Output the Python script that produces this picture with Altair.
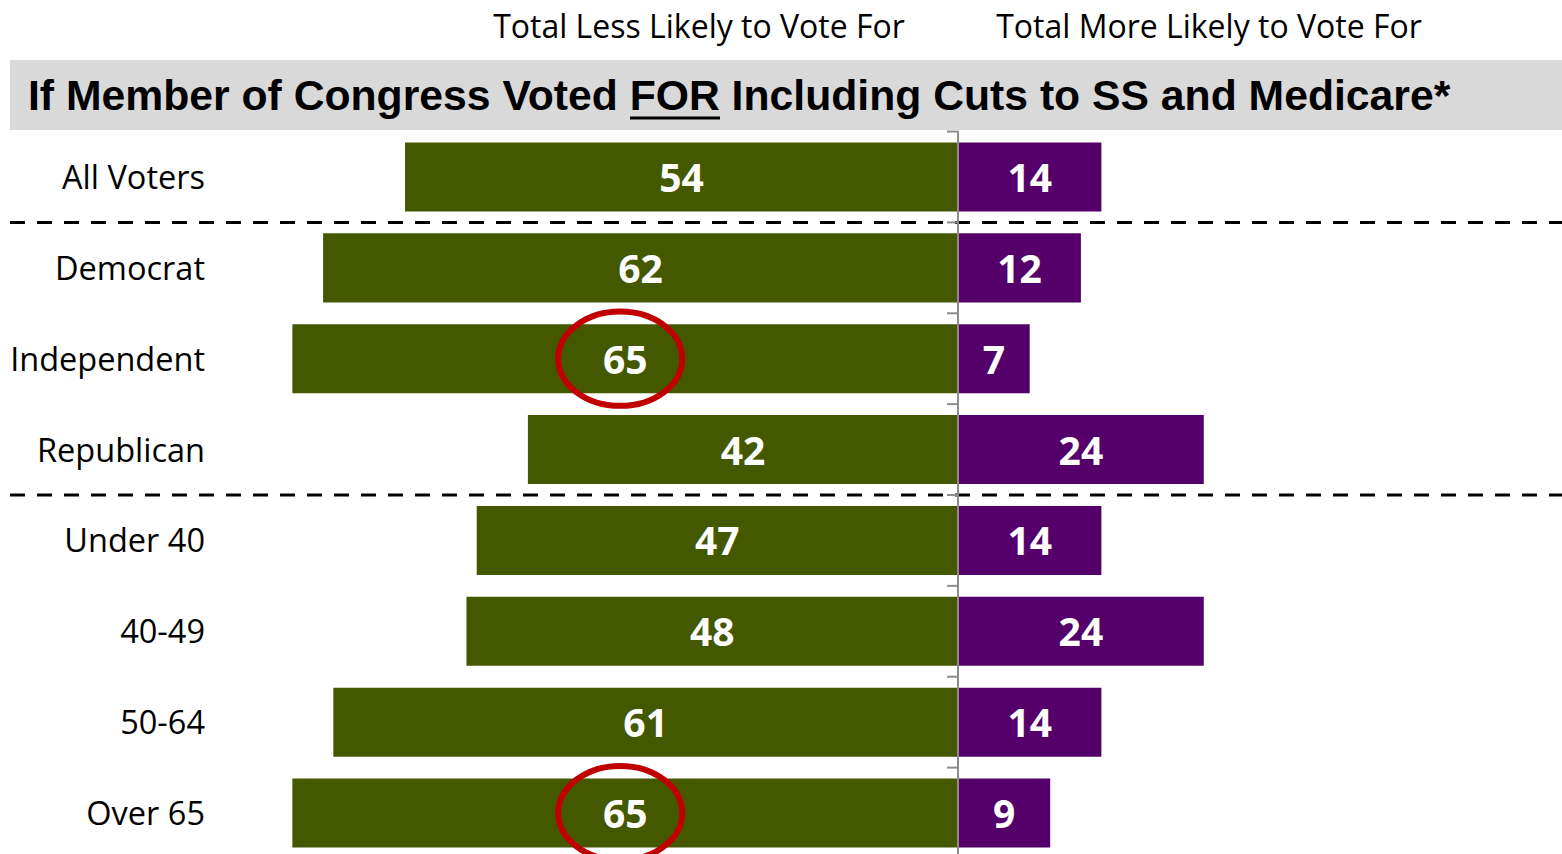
import altair as alt
import pandas as pd

categories = ["All Voters", "Democrat", "Independent", "Republican",
              "Under 40", "40-49", "50-64", "Over 65"]
less_likely = [54, 62, 65, 42, 47, 48, 61, 65]
more_likely = [14, 12, 7, 24, 14, 24, 14, 9]
highlight = ["Independent", "Over 65"]
separators_after = ["All Voters", "Republican"]

title_text = "If Member of Congress Voted FOR Including Cuts to SS and Medicare*"
header_left = "Total Less Likely to Vote For"
header_right = "Total More Likely to Vote For"

GREEN = "#445800"
PURPLE = "#55006A"

rows = []
for i, (c, l, m) in enumerate(zip(categories, less_likely, more_likely)):
    rows.append({"cat": c, "i": i, "side": "less", "x0": 0, "x1": -l,
                 "mid": -l / 2, "label": str(l), "top": i - 0.38, "bot": i + 0.38})
    rows.append({"cat": c, "i": i, "side": "more", "x0": 0, "x1": m,
                 "mid": m / 2, "label": str(m), "top": i - 0.38, "bot": i + 0.38})
bars = pd.DataFrame(rows)
cats = pd.DataFrame({"cat": categories, "i": list(range(len(categories)))})
seps = pd.DataFrame({"y": [categories.index(c) + 0.5 for c in separators_after]})
bounds = pd.DataFrame({"y": [i - 0.5 for i in range(len(categories))]})
hl = bars[(bars["side"] == "less") & (bars["cat"].isin(highlight))]

xscale = alt.Scale(domain=[-93.55, 58.98], nice=False, zero=False)
yscale = alt.Scale(domain=[7.451, -1.948], nice=False, zero=False)

W, H = 1562, 854

title_bar = alt.Chart(pd.DataFrame({"a": [0]})).mark_rect(color="#D9D9D9").encode(
    x=alt.value(10), x2=alt.value(1562), y=alt.value(60), y2=alt.value(130))

title = alt.Chart(pd.DataFrame({"t": [title_text]})).mark_text(
    font="Liberation Sans", fontWeight="bold", fontSize=42.7, align="left",
    baseline="middle", color="black").encode(
    x=alt.value(28), y=alt.value(97), text="t:N")

underline = alt.Chart(pd.DataFrame({"a": [0]})).mark_rule(
    color="black", strokeWidth=3).encode(
    x=alt.value(630), x2=alt.value(720), y=alt.value(118))

headers = alt.Chart(pd.DataFrame({"t": [header_left, header_right], "px": [699, 1209]})).mark_text(
    font="Open Sans", fontSize=32, align="center", baseline="middle", color="black").encode(
    x=alt.X("px:Q", scale=None), y=alt.value(28), text="t:N")

bar_layer = alt.Chart(bars).mark_rect().encode(
    x=alt.X("x0:Q", scale=xscale, axis=None),
    x2="x1:Q",
    y=alt.Y("top:Q", scale=yscale, axis=None),
    y2="bot:Q",
    color=alt.Color("side:N", scale=alt.Scale(domain=["less", "more"], range=[GREEN, PURPLE]),
                    legend=None))

sep_layer = alt.Chart(seps).mark_rule(color="black", strokeWidth=3, strokeDash=[15, 12]).encode(
    x=alt.value(10), x2=alt.value(1562), y=alt.Y("y:Q", scale=yscale, axis=None))

axis_line = alt.Chart(pd.DataFrame({"a": [0]})).mark_rule(color="#8C8C8C", strokeWidth=2).encode(
    x=alt.X("a:Q", scale=xscale, axis=None), y=alt.value(131), y2=alt.value(854))

ticks = alt.Chart(bounds).mark_rule(color="#8C8C8C", strokeWidth=2).encode(
    x=alt.value(947), x2=alt.value(958), y=alt.Y("y:Q", scale=yscale, axis=None))

value_labels = alt.Chart(bars).mark_text(
    font="Open Sans", fontWeight="bold", fontSize=39, color="white",
    align="center", baseline="middle", dy=3).encode(
    x=alt.X("mid:Q", scale=xscale, axis=None),
    y=alt.Y("i:Q", scale=yscale, axis=None),
    text="label:N")

cat_labels = alt.Chart(cats).mark_text(
    font="Open Sans", fontSize=32.5, color="black", align="right", baseline="middle", dy=2).encode(
    x=alt.value(205), y=alt.Y("i:Q", scale=yscale, axis=None), text="cat:N")

ellipse_path = ("M -1 0 C -1 -0.42 -0.552 -0.76 0 -0.76 C 0.552 -0.76 1 -0.42 1 0 "
                "C 1 0.42 0.552 0.76 0 0.76 C -0.552 0.76 -1 0.42 -1 0 Z")
circles = alt.Chart(hl).mark_point(
    shape=ellipse_path, filled=False, stroke="#C00000", strokeWidth=6, opacity=1,
    size=124 ** 2).encode(
    x=alt.X("mid:Q", scale=xscale, axis=None),
    y=alt.Y("i:Q", scale=yscale, axis=None),
    xOffset=alt.value(-5))

chart = alt.layer(
    title_bar, title, underline, headers, bar_layer, sep_layer, axis_line, ticks,
    value_labels, cat_labels, circles
).properties(
    width=W, height=H, autosize=alt.AutoSizeParams(type="none"), padding=0,
    background="white"
).configure_view(stroke=None)

chart.save("out.html", embed_options={"renderer": "svg", "actions": False})
